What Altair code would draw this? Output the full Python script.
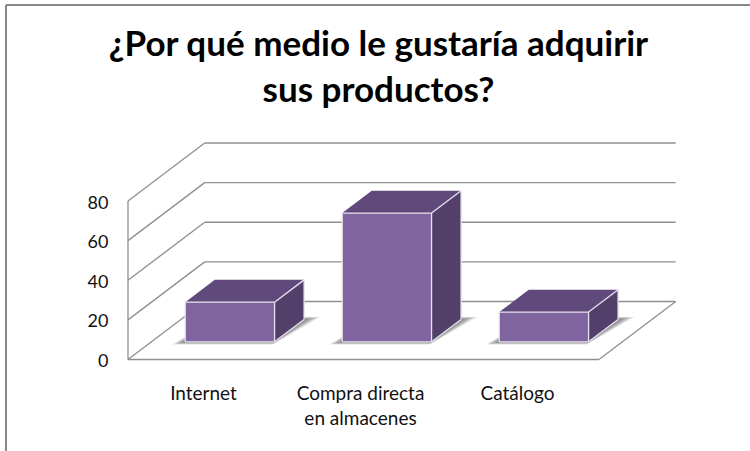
import altair as alt
import pandas as pd

# Chart content
categories = ["Internet", "Compra directa\nen almacenes", "Catálogo"]
values = [20, 65, 15]
axis_ticks = [0, 20, 40, 60, 80]
title_lines = ["¿Por qué medio le gustaría adquirir", "sus productos?"]

# Oblique projection of the box: one unit of depth moves a point right and up
DEPTH_SLOTS = 0.4885   # horizontal shift of the back wall, in category slots
DEPTH_VALUE = 29.27    # vertical shift of the back wall, in value units
BAR_WIDTH = 0.569      # bar width as a share of its slot
BAR_NEAR, BAR_FAR = 0.305, 0.69  # depth range occupied by the bars

# Page layout
PLOT_W, PLOT_H = 547, 217
LEFT, TOP = 128, 142.5
X_MAX = PLOT_W / 157
Y_MAX = PLOT_H / 1.98125

FRONT, ROOF, SIDE = "#8064a0", "#604a7b", "#53406a"
EDGE = "#e6e2ee"
GRID = "#8f8f8f"

x_scale = alt.Scale(domain=[0, X_MAX], range=[0, PLOT_W], nice=False, zero=False)
y_scale = alt.Scale(domain=[0, Y_MAX], range=[PLOT_H, 0], nice=False, zero=False)
y_axis = alt.Axis(values=axis_ticks, grid=False, domain=False, ticks=False, title=None,
                  labelFont="Lato", labelFontSize=18, labelColor="#111111",
                  labelPadding=20, labelOffset=2, labelBound=False, labelFlush=False)


def px(slot, depth):
    return slot + depth * DEPTH_SLOTS


def py(value, depth):
    return value + depth * DEPTH_VALUE


def segment(slot1, depth1, value1, slot2, depth2, value2):
    return {"x": px(slot1, depth1), "y": py(value1, depth1),
            "x2": px(slot2, depth2), "y2": py(value2, depth2)}


n = len(categories)

# Box wireframe: back wall, left wall, floor outline
grid_rows = []
for tick in axis_ticks:
    grid_rows.append(segment(0, 1, tick, n, 1, tick))
    grid_rows.append(segment(0, 0, tick, 0, 1, tick))
grid_rows.append(segment(0, 0, 0, n, 0, 0))
grid_rows.append(segment(n, 0, 0, n, 1, 0))
grid_rows.append(segment(0, 0, 0, 0, 0, axis_ticks[-1]))

side_rows, roof_rows, front_rows, edge_rows, shadow_rows = [], [], [], [], []
for i, value in enumerate(values):
    left = i + 0.5 - BAR_WIDTH / 2
    right = i + 0.5 + BAR_WIDTH / 2
    # Right-hand face: two vertical edges
    for depth in (BAR_NEAR, BAR_FAR):
        side_rows.append({"bar": i, "x": px(right, depth),
                          "y": py(0, depth), "y2": py(value, depth)})
    # Top face: two horizontal edges
    for depth in (BAR_NEAR, BAR_FAR):
        roof_rows.append({"bar": i, "y": py(value, depth),
                          "x": px(left, depth), "x2": px(right, depth)})
    front_rows.append({"bar": i, "x": px(left, BAR_NEAR), "x2": px(right, BAR_NEAR),
                       "y": py(0, BAR_NEAR), "y2": py(value, BAR_NEAR)})
    # Light bevel along the visible box edges
    edge_rows += [
        segment(left, BAR_NEAR, 0, right, BAR_NEAR, 0),
        segment(left, BAR_NEAR, 0, left, BAR_NEAR, value),
        segment(right, BAR_NEAR, 0, right, BAR_NEAR, value),
        segment(left, BAR_NEAR, value, right, BAR_NEAR, value),
        segment(right, BAR_NEAR, value, right, BAR_FAR, value),
        segment(right, BAR_NEAR, 0, right, BAR_FAR, 0),
        segment(right, BAR_FAR, 0, right, BAR_FAR, value),
    ]
    # Soft floor shadow, built from nested footprints that fade outwards
    for ring, spread in enumerate((1.0, 0.82, 0.65, 0.48, 0.32, 0.16)):
        near_depth = BAR_NEAR - 0.045 * spread
        far_depth = BAR_FAR + 0.045 * spread
        shadow_rows.append({"bar": f"{i}-{ring}", "y": py(0, near_depth),
                            "x": px(left - 0.06 * spread, near_depth),
                            "x2": px(right + 0.01 * spread, near_depth)})
        shadow_rows.append({"bar": f"{i}-{ring}", "y": py(0, far_depth),
                            "x": px(left, far_depth),
                            "x2": px(right + 0.08 * spread, far_depth)})

X = alt.X("x:Q", scale=x_scale, axis=None)
Y = alt.Y("y:Q", scale=y_scale, axis=y_axis)

grid = alt.Chart(pd.DataFrame(grid_rows)).mark_rule(color=GRID, strokeWidth=1.3).encode(
    x=X, x2="x2:Q", y=Y, y2="y2:Q")

shadow = alt.Chart(pd.DataFrame(shadow_rows)).mark_area(
    orient="horizontal", color="#505050", opacity=0.16, clip=False
).encode(x=X, x2="x2:Q", y=Y, detail="bar:N")

sides = alt.Chart(pd.DataFrame(side_rows)).mark_area(color=SIDE, opacity=1).encode(
    x=X, y=Y, y2="y2:Q", detail="bar:N")

roofs = alt.Chart(pd.DataFrame(roof_rows)).mark_area(
    orient="horizontal", color=ROOF, opacity=1
).encode(x=X, x2="x2:Q", y=Y, detail="bar:N")

fronts = alt.Chart(pd.DataFrame(front_rows)).mark_rect(color=FRONT).encode(
    x=X, x2="x2:Q", y=Y, y2="y2:Q")

edges = alt.Chart(pd.DataFrame(edge_rows)).mark_rule(color=EDGE, strokeWidth=1.3).encode(
    x=X, x2="x2:Q", y=Y, y2="y2:Q")

labels = alt.Chart(pd.DataFrame({
    "x": [i + 0.5 for i in range(n)], "label": categories
})).mark_text(
    font="Lato", fontSize=19, color="#111111", align="center", baseline="top",
    lineBreak="\n", lineHeight=25, dx=-3
).encode(x=X, y=alt.value(242), text="label:N")

# Outer frame: only the top and left edges fall inside the page
frame_top = alt.Chart(pd.DataFrame({"k": [0]})).mark_rule(color="#878787", strokeWidth=2).encode(
    x=alt.value(6 - LEFT), x2=alt.value(750 - LEFT), y=alt.value(5 - TOP))
frame_left = alt.Chart(pd.DataFrame({"k": [0]})).mark_rule(color="#878787", strokeWidth=2).encode(
    x=alt.value(6 - LEFT), y=alt.value(5 - TOP), y2=alt.value(451 - TOP))

chart = alt.layer(
    frame_top, frame_left, grid, shadow, sides, roofs, fronts, edges, labels
).properties(
    width=PLOT_W,
    height=PLOT_H,
    title=alt.TitleParams(
        text=title_lines, anchor="middle", font="Lato", fontSize=35, fontWeight="bold",
        color="#000000", lineHeight=46, dx=-23, offset=-105),
    padding={"left": LEFT, "top": TOP, "right": 750 - LEFT - PLOT_W,
             "bottom": 451 - TOP - PLOT_H},
    autosize=alt.AutoSizeParams(type="none"),
    background="white",
).configure_view(stroke=None)

chart.save("out.html", embed_options={"renderer": "svg", "actions": False})
